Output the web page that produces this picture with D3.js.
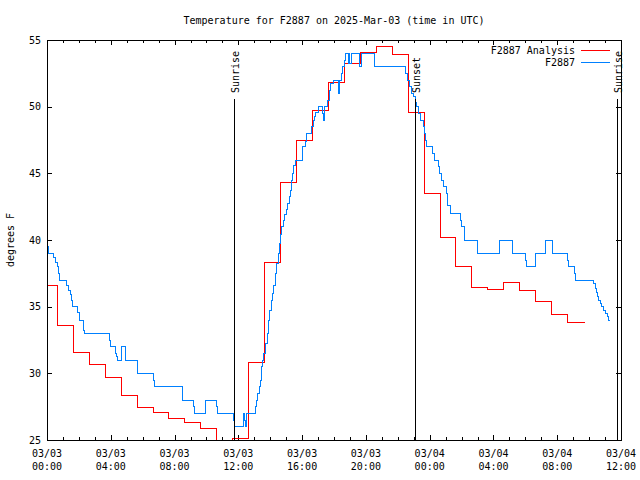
<!DOCTYPE html>
<html><head><meta charset="utf-8">
<script src="https://cdn.jsdelivr.net/npm/d3@7"></script>
<style>body{margin:0;background:#fff}</style>
</head><body>
<svg id="c" width="640" height="480"></svg>
<script>
// ---- data (hours since 2025-03-03 00:00 UTC) ----
const title = "Temperature for F2887 on 2025-Mar-03 (time in UTC)";
const yLabel = "degrees F";
const seriesNames = ["F2887 Analysis", "F2887"];
const seriesColors = ["#ff0000", "#0080ff"];

const analysisHours = [0, 0.65, 1.65, 2.65, 3.65, 4.65, 5.65, 6.65, 7.65, 8.65, 9.65, 10.65, 11.65, 12.65, 13.65, 14.65, 15.65, 16.65, 17.65, 18.65, 19.65, 20.65, 21.65, 22.65, 23.65, 24.65, 25.65, 26.65, 27.65, 28.65, 29.65, 30.65, 31.65, 32.65, 33.75];
const analysisTemps = [36.6, 33.6, 31.6, 30.7, 29.7, 28.35, 27.45, 27.1, 26.6, 26.35, 25.85, 24.6, 25.15, 30.8, 38.3, 44.3, 47.5, 49.7, 51.8, 53.25, 54.05, 54.55, 53.9, 49.6, 43.5, 40.2, 38.0, 36.45, 36.3, 36.85, 36.2, 35.4, 34.45, 33.85, 33.85];

const obsHours = [0, 0.04, 0.1, 0.42, 0.52, 0.63, 0.73, 0.78, 1.21, 1.32, 1.46, 1.53, 1.58, 1.92, 2.03, 2.26, 2.32, 2.37, 3.92, 3.98, 4.29, 4.35, 4.4, 4.65, 4.93, 5.65, 5.7, 6.68, 6.72, 8.48, 8.52, 9.21, 9.25, 9.96, 10.66, 10.69, 11.72, 11.78, 12.33, 12.41, 12.44, 12.52, 13.06, 13.15, 13.22, 13.3, 13.38, 13.45, 13.52, 13.6, 13.7, 13.8, 13.88, 13.97, 14.08, 14.15, 14.22, 14.3, 14.37, 14.5, 14.58, 14.63, 14.72, 14.85, 14.92, 15.0, 15.1, 15.2, 15.25, 15.33, 15.41, 15.49, 15.56, 16.04, 16.2, 16.28, 16.56, 16.69, 16.78, 16.85, 17.0, 17.31, 17.35, 17.4, 17.6, 17.69, 17.79, 17.95, 18.3, 18.36, 18.47, 18.53, 18.65, 18.74, 18.88, 18.95, 19.0, 19.07, 19.6, 19.75, 20.57, 22.5, 22.6, 22.75, 22.85, 22.97, 23.09, 23.2, 23.3, 23.4, 23.6, 23.66, 23.72, 23.8, 24.18, 24.28, 24.53, 24.6, 24.77, 24.87, 25.06, 25.13, 25.33, 25.92, 26.02, 26.21, 26.97, 28.41, 29.21, 30.04, 30.1, 30.63, 31.24, 31.72, 32.66, 32.7, 33.08, 33.12, 34.3, 34.38, 34.45, 34.52, 34.6, 34.7, 34.8, 34.9, 35.02, 35.14, 35.24, 35.28];
const obsTemps = [40, 39.5, 39, 38.7, 38.3, 38, 37.5, 37, 36.6, 36.25, 35.9, 35.5, 35, 34.6, 34, 33.5, 33.25, 33, 32.5, 32, 31.5, 31.25, 31, 32, 31, 30.5, 30, 29.5, 29, 28.5, 28, 27.5, 27, 28, 27.5, 27, 26.5, 26, 27, 26.5, 26, 27, 27.5, 28, 28.5, 29, 29.5, 30.5, 31, 31.5, 32.25, 33, 34, 34.75, 35.5, 36, 36.6, 37.5, 38.25, 39, 39.75, 40.4, 41, 41.5, 41.9, 42.3, 42.75, 43.25, 43.75, 44.5, 45, 45.6, 46, 47, 47.4, 48, 48.5, 49, 49.25, 49.6, 50, 49.5, 49, 50, 50.5, 51.25, 51.75, 52, 51, 52, 52.5, 53, 53.5, 54, 53.25, 54, 53.25, 54, 53, 54, 53, 52.5, 52, 51.5, 51, 50.75, 50.3, 50, 49.5, 49, 48.5, 48, 47.5, 47, 46.5, 46, 45.5, 45, 44.5, 44, 43.5, 42.6, 42, 41.5, 41, 40, 39, 40, 39, 38.5, 38, 39, 40, 39, 38.5, 38, 37.5, 37, 36.75, 36.4, 36.1, 35.8, 35.5, 35.25, 35, 34.75, 34.5, 34.25, 34.0, 34.0];

const sunHours = [11.72, 23.08, 35.76];
const sunLabels = ["Sunrise", "Sunset", "Sunrise"];

const yTicks = [25, 30, 35, 40, 45, 50, 55];
const xMajorHours = [0, 4, 8, 12, 16, 20, 24, 28, 32, 36];
const xTickDates = ["03/03", "03/03", "03/03", "03/03", "03/03", "03/03", "03/04", "03/04", "03/04", "03/04"];
const xTickTimes = ["00:00", "04:00", "08:00", "12:00", "16:00", "20:00", "00:00", "04:00", "08:00", "12:00"];
const xMinorHours = d3.range(0, 37, 1);

// ---- layout ----
const W = 640, H = 480;
const L = 47, R = 621, T = 40, B = 440;
const FONT = "'DejaVu Sans Mono', 'Liberation Mono', monospace";

const svg = d3.select("#c");
svg.append("rect").attr("width", W).attr("height", H).attr("fill", "#fff");

const x = d3.scaleLinear().domain([0, 36]).range([L, R]);
const y = d3.scaleLinear().domain([25, 55]).range([B, T]);

function styleAxis(g) {
  g.select(".domain").remove();
  g.selectAll("line").attr("stroke", "#000").attr("shape-rendering", "crispEdges");
  g.selectAll("text").remove();
}

// minor and major x ticks (bottom and top)
svg.append("g").attr("transform", `translate(0,${B})`)
  .call(d3.axisBottom(x).tickValues(xMinorHours).tickSize(-3).tickFormat("")).call(styleAxis);
svg.append("g").attr("transform", `translate(0,${B})`)
  .call(d3.axisBottom(x).tickValues(xMajorHours).tickSize(-5).tickFormat("")).call(styleAxis);
svg.append("g").attr("transform", `translate(0,${T})`)
  .call(d3.axisTop(x).tickValues(xMinorHours).tickSize(-3).tickFormat("")).call(styleAxis);
svg.append("g").attr("transform", `translate(0,${T})`)
  .call(d3.axisTop(x).tickValues(xMajorHours).tickSize(-5).tickFormat("")).call(styleAxis);
// y ticks left and right
svg.append("g").attr("transform", `translate(${L},0)`)
  .call(d3.axisLeft(y).tickValues(yTicks).tickSize(-5).tickFormat("")).call(styleAxis);
svg.append("g").attr("transform", `translate(${R},0)`)
  .call(d3.axisRight(y).tickValues(yTicks).tickSize(-5).tickFormat("")).call(styleAxis);

// tick labels
const txt = svg.append("g").attr("font-family", FONT).attr("font-size", 10).attr("fill", "#000");
yTicks.forEach(v => {
  txt.append("text").attr("x", L - 6).attr("y", y(v)).attr("text-anchor", "end")
    .attr("dominant-baseline", "central").text(v);
});
xMajorHours.forEach((h, i) => {
  txt.append("text").attr("x", x(h)).attr("y", 453).attr("text-anchor", "middle")
    .attr("dominant-baseline", "central").text(xTickDates[i]);
  txt.append("text").attr("x", x(h)).attr("y", 466).attr("text-anchor", "middle")
    .attr("dominant-baseline", "central").text(xTickTimes[i]);
});
txt.append("text").attr("x", (L + R) / 2).attr("y", 20).attr("text-anchor", "middle")
  .attr("dominant-baseline", "central").text(title);
txt.append("text").attr("transform", `translate(10,${(T + B) / 2}) rotate(-90)`)
  .attr("text-anchor", "middle").attr("dominant-baseline", "central").text(yLabel);

// clip
svg.append("clipPath").attr("id", "plotclip").append("rect")
  .attr("x", L).attr("y", T).attr("width", R - L).attr("height", B - T);

const line = d3.line().x(d => x(d[0])).y(d => y(d[1])).curve(d3.curveStepAfter);
const analysis = analysisHours.map((h, i) => [h, analysisTemps[i]]);
const obs = obsHours.map((h, i) => [h, obsTemps[i]]);

const plot = svg.append("g").attr("clip-path", "url(#plotclip)");
[analysis, obs].forEach((data, i) => {
  plot.append("path").datum(data).attr("d", line).attr("fill", "none")
    .attr("stroke", seriesColors[i]).attr("stroke-width", 1).attr("shape-rendering", "crispEdges");
});

// sunrise / sunset markers
sunHours.forEach((h, i) => {
  const xv = Math.round(x(h)) + 0.5;
  svg.append("line").attr("x1", xv).attr("x2", xv).attr("y1", B).attr("y2", 99)
    .attr("stroke", "#000").attr("stroke-width", 1).attr("shape-rendering", "crispEdges");
  txt.append("text").attr("transform", `translate(${xv + 4.5},93) rotate(-90)`)
    .attr("text-anchor", "start").text(sunLabels[i]);
});

// border
svg.append("rect").attr("x", L + 0.5).attr("y", T + 0.5).attr("width", R - L).attr("height", B - T)
  .attr("fill", "none").attr("stroke", "#000").attr("shape-rendering", "crispEdges");

// legend
seriesNames.forEach((name, i) => {
  const ly = 50 + i * 12;
  txt.append("text").attr("x", 575).attr("y", ly).attr("text-anchor", "end")
    .attr("dominant-baseline", "central").text(name);
  svg.append("line").attr("x1", 581).attr("x2", 610).attr("y1", ly + 0.5).attr("y2", ly + 0.5)
    .attr("stroke", seriesColors[i]).attr("shape-rendering", "crispEdges");
});
</script>
</body></html>
